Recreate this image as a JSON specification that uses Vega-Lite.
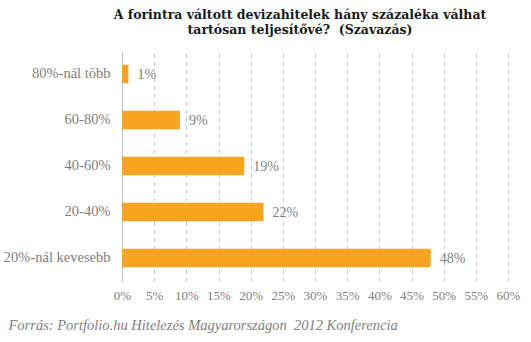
{
  "$schema": "https://vega.github.io/schema/vega-lite/v6.json",
  "autosize": "none",
  "width": 386,
  "height": 230,
  "padding": {"left": 122, "top": 51, "right": 23, "bottom": 61},
  "background": "white",
  "config": {"view": {"stroke": null}, "font": "Liberation Serif"},
  "title": {
    "text": ["A forintra váltott devizahitelek hány százaléka válhat", "tartósan teljesítővé?\u00a0 (Szavazás)"],
    "font": "DejaVu Serif",
    "fontSize": 12.5,
    "fontWeight": "bold",
    "color": "#1a1a1a",
    "anchor": "middle",
    "dx": -15,
    "offset": 15,
    "lineHeight": 15
  },
  "data": {
    "values": [
      {"category": "80%-nál több", "value": 1, "label": "1%"},
      {"category": "60-80%", "value": 9, "label": "9%"},
      {"category": "40-60%", "value": 19, "label": "19%"},
      {"category": "20-40%", "value": 22, "label": "22%"},
      {"category": "20%-nál kevesebb", "value": 48, "label": "48%"}
    ]
  },
  "encoding": {
    "y": {
      "field": "category",
      "type": "nominal",
      "sort": null,
      "scale": {"paddingInner": 0.6, "paddingOuter": 0.3},
      "axis": {
        "title": null,
        "ticks": false,
        "labelPadding": 12,
        "labelFont": "Liberation Serif",
        "labelFontSize": 14.5,
        "labelColor": "#808080",
        "domainColor": "#bfbfbf",
        "domainWidth": 1
      }
    },
    "x": {
      "field": "value",
      "type": "quantitative",
      "scale": {"domain": [0, 60], "nice": false},
      "axis": {
        "values": [0, 5, 10, 15, 20, 25, 30, 35, 40, 45, 50, 55, 60],
        "labelExpr": "datum.value + '%'",
        "labelOverlap": false,
        "labelFlush": false,
        "labelFont": "Liberation Serif",
        "labelFontSize": 13,
        "labelColor": "#808080",
        "labelPadding": 8,
        "ticks": false,
        "domain": false,
        "grid": true,
        "gridDash": [4, 4],
        "gridColor": "#c8c8c8",
        "title": "Forrás: Portfolio.hu Hitelezés Magyarországon\u00a0 2012 Konferencia",
        "titleFont": "Liberation Serif",
        "titleFontSize": 14.5,
        "titleFontStyle": "italic",
        "titleFontWeight": "normal",
        "titleColor": "#808080",
        "titleAnchor": "start",
        "titleAlign": "left",
        "titleBaseline": "alphabetic",
        "titleX": -114,
        "titleY": 48
      }
    }
  },
  "layer": [
    {"mark": {"type": "bar", "color": "#F7A520"}},
    {
      "mark": {"type": "text", "align": "left", "dx": 9, "dy": 1, "font": "Liberation Serif", "fontSize": 14, "color": "#808080"},
      "encoding": {"text": {"field": "label", "type": "nominal"}}
    }
  ]
}
